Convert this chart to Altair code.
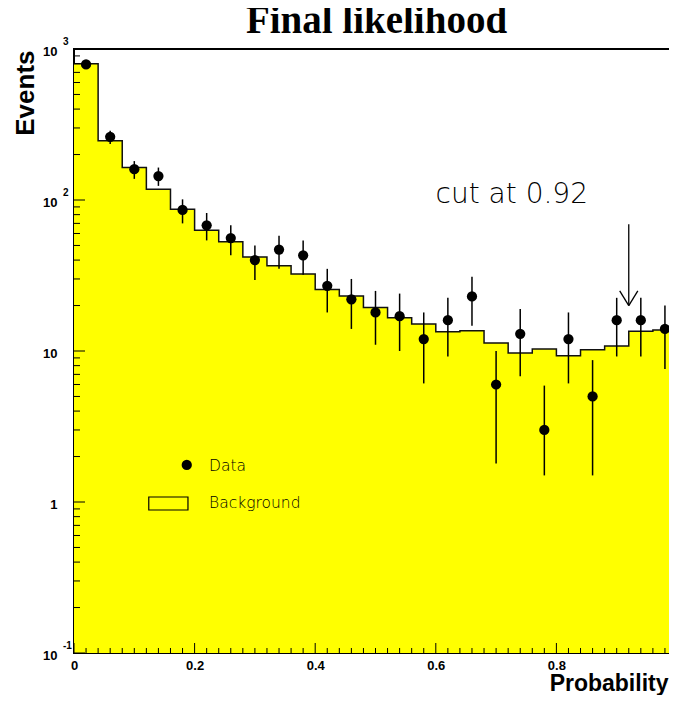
import altair as alt
import pandas as pd

# ---------------- data ----------------
n_bins = 25
bin_width = 0.04
bin_lo = [round(i * bin_width, 2) for i in range(n_bins)]
bin_center = [round(b + bin_width / 2, 2) for b in bin_lo]

background = [800, 247, 164, 118, 87, 63, 53, 42, 36.7, 32.4, 25.5, 23.1, 19.4,
              16.6, 15.1, 13.4, 13.6, 11.3, 9.7, 10.3, 9.3, 10.2, 10.8, 13.5, 13.8]
data_counts = [790, 262, 160, 144, 86, 68, 56, 40, 47, 43, 27, 22, 18,
               17, 12, 16, 23, 6, 13, 3, 12, 5, 16, 16, 14]
data_hi = [818, 288, 181, 164, 101, 82, 68, 50, 58, 54, 35, 30, 25,
           24, 18, 22.5, 31, 10, 19, 5.9, 18, 8.7, 22.5, 22.5, 20]
data_lo = [762, 235, 138, 124, 70, 54, 43, 29.5, 35, 32, 18, 14, 11,
           10, 6.1, 9.2, 14.7, 1.8, 6.8, 1.5, 6.1, 1.5, 9.2, 9.2, 7.6]

x_major = [0, 0.2, 0.4, 0.6, 0.8, 1.0]
x_minor = [round(i * 0.02, 2) for i in range(51)]
y_major = [0.1, 1, 10, 100, 1000]
y_minor = [k * 10 ** e for e in range(-1, 3) for k in range(2, 10)]
y_sup_val = [0.1, 100, 1000]
y_sup_text = ["-1", "2", "3"]

title_text = "Final likelihood"

cut_value = 0.92
arrow_top, arrow_tip, arrow_head_y, arrow_head_dx = 69, 20, 25, 0.015
cut_label = "cut at 0.92"
cut_label_pos = (0.726, 95.5)

legend_marker = (0.187, 1.76)
legend_box = (0.124, 0.189, 0.885, 1.079)
legend_text_x = 0.224
legend_labels = ["Data", "Background"]
legend_label_y = [1.60, 0.916]

# ---------------- tables ----------------
step_df = pd.DataFrame({"x": bin_lo + [1.0], "y": background + [background[-1]]})
pts_df = pd.DataFrame({"x": bin_center, "y": data_counts, "lo": data_lo, "hi": data_hi})
xmaj_df = pd.DataFrame({"x": x_major})
xmin_df = pd.DataFrame({"x": [v for v in x_minor if abs(v / 0.2 - round(v / 0.2)) > 1e-6]})
ymaj_df = pd.DataFrame({"y": y_major})
ymin_df = pd.DataFrame({"y": y_minor})
sup_df = pd.DataFrame({"y": y_sup_val, "t": y_sup_text})
title_df = pd.DataFrame({"t": [title_text]})
arrow_df = pd.DataFrame({
    "x": [cut_value, cut_value - arrow_head_dx, cut_value + arrow_head_dx],
    "x2": [cut_value, cut_value, cut_value],
    "y": [arrow_top, arrow_head_y, arrow_head_y],
    "y2": [arrow_tip, arrow_tip, arrow_tip],
})
cut_df = pd.DataFrame({"x": [cut_label_pos[0]], "y": [cut_label_pos[1]], "t": [cut_label]})
legm_df = pd.DataFrame({"x": [legend_marker[0]], "y": [legend_marker[1]]})
legb_df = pd.DataFrame({"x": [legend_box[0]], "x2": [legend_box[1]],
                        "y": [legend_box[2]], "y2": [legend_box[3]]})
legt_df = pd.DataFrame({"x": [legend_text_x] * 2, "y": legend_label_y, "t": legend_labels})

W, H = 603, 604
XS = alt.Scale(domain=[0, 1], nice=False, zero=False)
YS = alt.Scale(type="log", domain=[0.1, 1000], nice=False)
SANS = "Liberation Sans"
THIN = "DejaVu Sans"

x_axis = alt.Axis(values=x_major, format=".1~f", ticks=False, domain=False, grid=False,
                  labelFont=SANS, labelFontWeight="bold", labelFontSize=13, labelPadding=6,
                  labelColor="black", labelFlush=False, labelOverlap=False,
                  title="Probability", titleFont=SANS, titleFontWeight="bold",
                  titleFontSize=23, titleColor="black", titleAnchor="end",
                  titleAlign="right", titleBaseline="alphabetic", titleX=W - 9, titleY=37)
y_axis = alt.Axis(values=y_major, labelExpr="datum.value == 1 ? '1' : '10'",
                  ticks=False, domain=False, grid=False,
                  labelFont=SANS, labelFontWeight="bold", labelFontSize=13, labelPadding=17,
                  labelColor="black", labelFlush=False, labelOverlap=False, labelOffset=2,
                  title="Events", titleFont=SANS, titleFontWeight="bold", titleFontSize=26,
                  titleColor="black", titleAngle=270, titleAlign="right",
                  titleBaseline="alphabetic", titleX=-41, titleY=1)

X = alt.X("x:Q", scale=XS, axis=x_axis)
Y = alt.Y("y:Q", scale=YS, axis=y_axis)

area = alt.Chart(step_df).mark_area(interpolate="step-after", color="#ffff00").encode(
    x=X, y=Y, y2=alt.datum(0.1))
outline = alt.Chart(step_df).mark_line(interpolate="step-after", color="#111111",
                                       strokeWidth=1.5).encode(x=X, y=Y)

ytick_major = alt.Chart(ymaj_df).mark_rule(color="black", strokeWidth=1).encode(
    y=Y, x=alt.value(0), x2=alt.value(11))
ytick_minor = alt.Chart(ymin_df).mark_rule(color="black", strokeWidth=1).encode(
    y=Y, x=alt.value(0), x2=alt.value(6))
xtick_major = alt.Chart(xmaj_df).mark_rule(color="black", strokeWidth=1).encode(
    x=X, y=alt.value(H), y2=alt.value(H - 10))
xtick_minor = alt.Chart(xmin_df).mark_rule(color="black", strokeWidth=1).encode(
    x=X, y=alt.value(H), y2=alt.value(H - 5))
sup = alt.Chart(sup_df).mark_text(align="left", baseline="middle", dy=-7, font=SANS,
                                  fontWeight="bold", fontSize=10, color="black").encode(
    y=Y, x=alt.value(-11), text="t:N")

errbars = alt.Chart(pts_df).mark_rule(color="black", strokeWidth=1.5).encode(
    x=X, y=alt.Y("lo:Q", scale=YS, axis=y_axis), y2="hi:Q")
points = alt.Chart(pts_df).mark_point(filled=True, shape="circle", size=105,
                                      color="black", opacity=1).encode(x=X, y=Y)

arrow = alt.Chart(arrow_df).mark_rule(color="black", strokeWidth=1.3).encode(
    x=X, x2="x2:Q", y=Y, y2="y2:Q")
cut_text = alt.Chart(cut_df).mark_text(font=THIN, fontWeight=200, fontSize=28,
                                       align="center", baseline="alphabetic",
                                       color="black").encode(x=X, y=Y, text="t:N")

leg_marker = alt.Chart(legm_df).mark_point(filled=True, shape="circle", size=105,
                                           color="black", opacity=1).encode(x=X, y=Y)
leg_box = alt.Chart(legb_df).mark_rect(fill="#ffff00", stroke="black", strokeWidth=1.2).encode(
    x=X, x2="x2:Q", y=Y, y2="y2:Q")
leg_text = alt.Chart(legt_df).mark_text(font=THIN, fontWeight=200, fontSize=15.5,
                                        align="left", baseline="alphabetic",
                                        color="black").encode(x=X, y=Y, text="t:N")

title = alt.Chart(title_df).mark_text(font="Liberation Serif", fontWeight="bold",
                                      fontSize=39, align="center", baseline="alphabetic",
                                      color="black").encode(
    x=alt.value(W / 2 + 1), y=alt.value(-16), text="t:N")

chart = alt.layer(
    area, outline, ytick_major, ytick_minor, xtick_major, xtick_minor, sup,
    errbars, points, arrow, cut_text, leg_box, leg_marker, leg_text, title,
).properties(
    width=W, height=H,
    autosize=alt.AutoSizeParams(type="none"),
    padding={"left": 66, "top": 41, "right": -8, "bottom": 42},
).configure(background="white").configure_view(stroke="black", strokeWidth=2)

chart.save("out.html", embed_options={"renderer": "svg", "actions": False})
